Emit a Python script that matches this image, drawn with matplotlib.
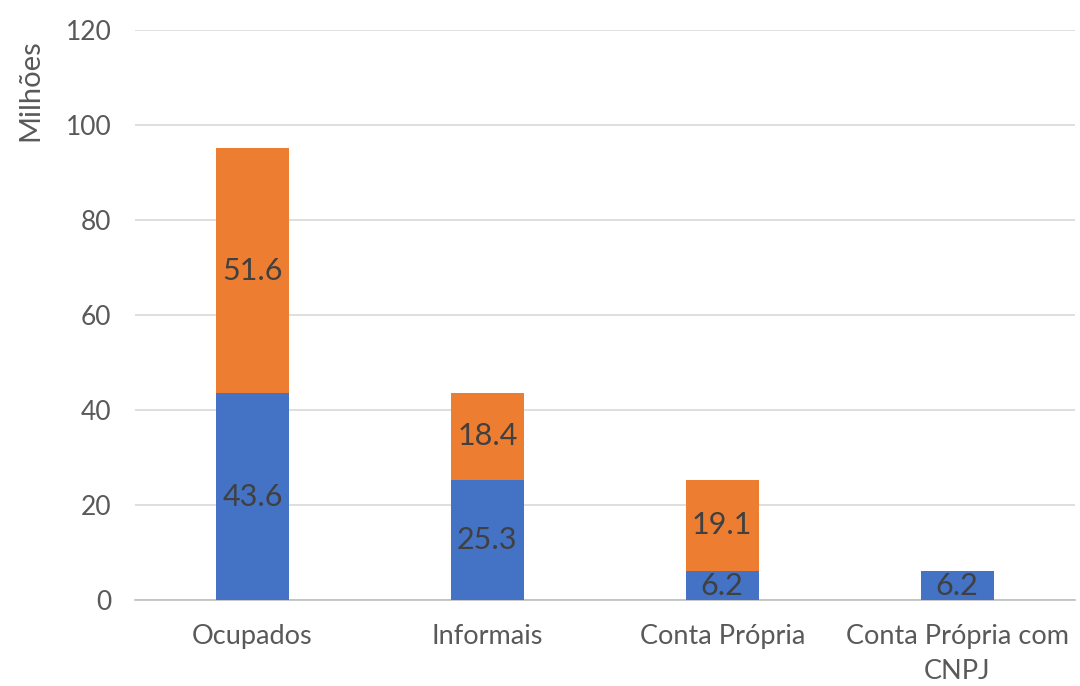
import numpy as np
import matplotlib
matplotlib.use('Agg')
import matplotlib.pyplot as plt

# ====================== DATA ======================
categories = ["Ocupados", "Informais", "Conta Própria", "Conta Própria com\nCNPJ"]
blue_vals = [43.6, 25.3, 6.2, 6.2]
orange_vals = [51.6, 18.4, 19.1, 0.0]
y_ticks = [0, 20, 40, 60, 80, 100, 120]

BLUE = "#4472C4"
ORANGE = "#ED7D31"
TEXT_GRAY = "#595959"
LABEL_DARK = "#404040"

plt.rcParams['font.family'] = ['Lato', 'DejaVu Sans']

fig = plt.figure(figsize=(10.8, 6.86), dpi=100)
ax = fig.add_axes([0.125, 0.125, 0.87, 0.831])

x = np.arange(len(categories))
width = 0.31

bars_b = ax.bar(x, blue_vals, width, color=BLUE, zorder=3)
bars_o = ax.bar(x, orange_vals, width, bottom=blue_vals, color=ORANGE, zorder=3)

# value labels centred in each segment
for rect, v in zip(bars_b, blue_vals):
    if v > 0:
        ax.text(rect.get_x() + rect.get_width() / 2, v / 2, f"{v:.1f}",
                ha='center', va='center', fontsize=22, color=LABEL_DARK, zorder=4)
for rect, b, v in zip(bars_o, blue_vals, orange_vals):
    if v > 0:
        ax.text(rect.get_x() + rect.get_width() / 2, b + v / 2, f"{v:.1f}",
                ha='center', va='center', fontsize=22, color=LABEL_DARK, zorder=4)

ax.set_xlim(-0.5, 3.5)
ax.set_ylim(0, 120)
ax.set_yticks(y_ticks)
ax.set_xticks(x)
ax.set_xticklabels(categories, linespacing=1.5, fontsize=19.5)
ax.yaxis.grid(True, color="#D9D9D9", linewidth=1.2, zorder=0)
ax.set_axisbelow(True)

for s in ['top', 'right', 'left']:
    ax.spines[s].set_visible(False)
ax.spines['bottom'].set_color("#BFBFBF")
ax.spines['bottom'].set_linewidth(1.2)

ax.tick_params(axis='both', length=0, colors=TEXT_GRAY)
ax.tick_params(axis='y', pad=17, labelsize=19)
ax.tick_params(axis='x', pad=17)
ax.set_ylabel("Milhões", fontsize=21, color=TEXT_GRAY)
ax.yaxis.set_label_coords(-0.098, 0.895)

plt.savefig("out.png", dpi=100)
plt.close()
